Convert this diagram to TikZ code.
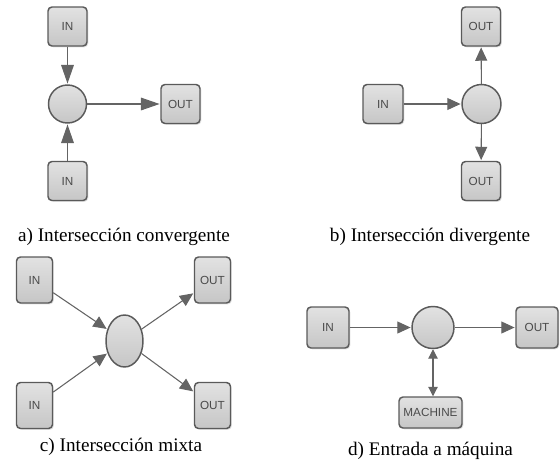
\documentclass[tikz,border=0pt]{standalone}
\usepackage{fontspec}
\setmainfont{Liberation Serif}
\newfontfamily\boxfont{Liberation Sans}
\usetikzlibrary{arrows.meta,shadows,shapes.geometric}
\def\pxu{0.75pt}
\definecolor{edgegray}{HTML}{5A5A5A}
\definecolor{linegray}{HTML}{646464}
\definecolor{fillhi}{HTML}{E2E2E2}
\definecolor{filllo}{HTML}{C6C6C6}
\definecolor{labelgray}{HTML}{4A4A4A}
\tikzset{
  x=\pxu, y=-\pxu,
  block/.style={draw=edgegray, line width=1.1pt, rounded corners=3pt,
    top color=fillhi, bottom color=filllo,
    drop shadow={shadow xshift=1pt, shadow yshift=-1pt, fill=black, opacity=0.12},
    font=\boxfont\fontsize{8.8}{9.5}\selectfont, text=labelgray,
    inner sep=0pt, align=center},
  junction/.style={circle, draw=edgegray, line width=1.1pt,
    top color=fillhi, bottom color=filllo, inner sep=0pt},
  oval/.style={ellipse, draw=edgegray, line width=1.1pt,
    top color=fillhi, bottom color=filllo, inner sep=0pt},
  flow/.style={draw=linegray, line width=0.8pt,
    -{Triangle[length=10pt, width=9pt]}, shorten >=0.5pt},
  longflow/.style={draw=linegray, line width=0.8pt,
    -{Triangle[length=14pt, width=9.5pt]}, shorten >=0.5pt},
  caption/.style={font=\fontsize{14.4}{16}\selectfont, text=black, inner sep=0pt}
}
\begin{document}
\begin{tikzpicture}
\useasboundingbox (0,0) rectangle (560,471);

% a) convergent intersection
\node[block, minimum width=39*\pxu, minimum height=39*\pxu] (ain1) at (67.5,26.5) {IN};
\node[junction, minimum size=38*\pxu] (ac) at (67.5,104) {};
\node[block, minimum width=39*\pxu, minimum height=39*\pxu] (aout) at (180.5,104) {OUT};
\node[block, minimum width=39*\pxu, minimum height=39*\pxu] (ain2) at (67.5,181) {IN};
\draw[longflow] (ain1) -- (ac);
\draw[longflow] (ain2) -- (ac);
\draw[longflow] (ac) -- (aout);
\node[caption] (acap) at (124,237) {a) Intersección convergente};

% b) divergent intersection
\node[block, minimum width=39*\pxu, minimum height=39*\pxu] (bout1) at (481,26.5) {OUT};
\node[junction, minimum size=39*\pxu] (bc) at (481.5,104) {};
\node[block, minimum width=40*\pxu, minimum height=39*\pxu] (bin) at (383,104) {IN};
\node[block, minimum width=39*\pxu, minimum height=39*\pxu] (bout2) at (481,181) {OUT};
\draw[flow] (bin) -- (bc);
\draw[flow] (bc) -- (bout1);
\draw[flow] (bc) -- (bout2);
\node[caption] (bcap) at (430,237) {b) Intersección divergente};

% c) mixed intersection
\node[block, minimum width=36*\pxu, minimum height=46*\pxu] (cin1) at (34.5,280) {IN};
\node[block, minimum width=36*\pxu, minimum height=46*\pxu] (cin2) at (34.5,405.5) {IN};
\node[block, minimum width=36*\pxu, minimum height=46*\pxu] (cout1) at (212.5,280) {OUT};
\node[block, minimum width=36*\pxu, minimum height=46*\pxu] (cout2) at (212.5,405.5) {OUT};
\node[oval, minimum width=37*\pxu, minimum height=52*\pxu] (cc) at (124.5,341) {};
\draw[flow] (cin1) -- (cc);
\draw[flow] (cin2) -- (cc);
\draw[flow] (cc) -- (cout1);
\draw[flow] (cc) -- (cout2);
\node[caption] (ccap) at (121,447) {c) Intersección mixta};

% d) machine input
\node[block, minimum width=42*\pxu, minimum height=41*\pxu] (din) at (328,327.5) {IN};
\node[junction, minimum size=42*\pxu] (dc) at (433,327.5) {};
\node[block, minimum width=42*\pxu, minimum height=41*\pxu] (dout) at (537,327.5) {OUT};
\node[block, minimum width=63*\pxu, minimum height=31*\pxu] (dmach) at (430.5,412.5) {MACHINE};
\draw[flow] (din) -- (dc);
\draw[flow] (dc) -- (dout);
\draw[draw=linegray, line width=0.8pt,
  {Triangle[length=7pt, width=7pt]}-{Triangle[length=7pt, width=7pt]}]
  (dc.south) -- (dc.south |- dmach.north);
\node[caption] (dcap) at (430.5,451) {d) Entrada a máquina};
\end{tikzpicture}
\end{document}
